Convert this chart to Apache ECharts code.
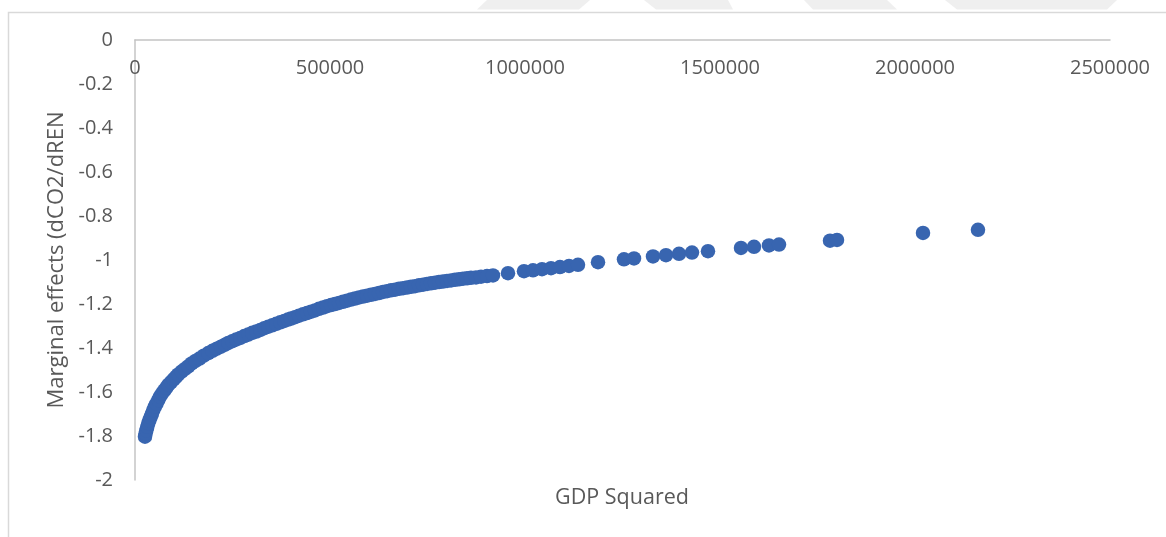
<!DOCTYPE html>
<html>
<head>
<meta charset="utf-8">
<script src="https://cdn.jsdelivr.net/npm/echarts@6/dist/echarts.min.js"></script>
<style>
  html, body { margin: 0; padding: 0; background: #ffffff; }
  #chart { width: 1166px; height: 537px; }
</style>
</head>
<body>
<div id="chart"></div>
<script>
// ---- Data ----
const xTitle = 'GDP Squared';
const yTitle = 'Marginal effects (dCO2/dREN';

const gdpSquared = [
  25600, 27200, 29200, 31500, 34100, 36900, 40000, 43300, 46900, 50800,
  54900, 59500, 64100, 69200, 74600, 80000, 85400, 92300, 99500, 105100,
  111000, 119500, 128200, 136700, 145400, 155100, 165400, 176400, 187900, 198700,
  209700, 220500, 230800, 239200, 249500, 259700, 270000, 280300, 290500, 300800,
  311000, 321300, 331500, 341800, 352100, 362300, 372600, 382800, 392300, 400000,
  410300, 420500, 430800, 441000, 451300, 461500, 471800, 482100, 492300, 502600,
  512800, 523100, 533300, 543600, 553800, 564100, 574400, 584600, 594900, 605100,
  615400, 625600, 635900, 646200, 656400, 666700, 676900, 687200, 697400, 707700,
  717900, 728200, 738500, 748700, 759000, 769200, 779500, 789700, 800000, 810300,
  820500, 830800, 841000, 851300, 861500, 874400, 887200, 902600,
  917900, 956400, 997400, 1020500, 1043600, 1066700, 1089700, 1112800, 1135900, 1187200,
  1253800, 1279500, 1328200, 1361500, 1394900, 1428200, 1469200, 1553800, 1587200, 1625600,
  1651300, 1782100, 1800000, 2020500, 2161500
];

const marginalEffect = [
  -1.803, -1.789, -1.774, -1.758, -1.742, -1.728, -1.714, -1.700, -1.682, -1.667,
  -1.653, -1.637, -1.621, -1.607, -1.594, -1.581, -1.568, -1.555, -1.542, -1.531,
  -1.520, -1.507, -1.495, -1.483, -1.470, -1.459, -1.448, -1.435, -1.423, -1.413,
  -1.403, -1.394, -1.385, -1.377, -1.369, -1.361, -1.354, -1.346, -1.339, -1.331,
  -1.325, -1.318, -1.310, -1.303, -1.297, -1.290, -1.283, -1.277, -1.271, -1.266,
  -1.260, -1.253, -1.247, -1.241, -1.235, -1.229, -1.222, -1.216, -1.210, -1.205,
  -1.200, -1.195, -1.190, -1.185, -1.180, -1.175, -1.170, -1.166, -1.162, -1.158,
  -1.154, -1.150, -1.145, -1.142, -1.138, -1.135, -1.131, -1.128, -1.125, -1.122,
  -1.119, -1.115, -1.112, -1.109, -1.106, -1.103, -1.100, -1.098, -1.095, -1.093,
  -1.090, -1.088, -1.085, -1.083, -1.081, -1.079, -1.076, -1.073,
  -1.070, -1.060, -1.051, -1.047, -1.042, -1.037, -1.032, -1.027, -1.022, -1.010,
  -0.997, -0.993, -0.984, -0.978, -0.972, -0.966, -0.960, -0.945, -0.940, -0.934,
  -0.930, -0.912, -0.909, -0.877, -0.863
];

const xTicks = { min: 0, max: 2500000, interval: 500000 };
const yTicks = { min: -2, max: 0, interval: 0.2 };

// ---- Chart ----
const points = gdpSquared.map((x, i) => [x, marginalEffect[i]]);
const FONT = '"Open Sans", Lato, sans-serif';
const TEXT = '#595959';
const AXIS = '#c4c4c4';

const chart = echarts.init(document.getElementById('chart'), null, { renderer: 'canvas' });
chart.setOption({
  animation: false,
  backgroundColor: '#ffffff',
  textStyle: { fontFamily: FONT },
  title: {
    text: xTitle,
    left: 622,
    top: 487,
    textAlign: 'center',
    padding: 0,
    textStyle: { color: TEXT, fontSize: 21.5, fontWeight: 'normal', fontFamily: FONT }
  },
  grid: { left: 135, right: 56, top: 40, bottom: 57, containLabel: false, outerBoundsMode: 'none' },
  graphic: [
    { type: 'polygon', silent: true, z: -10, shape: { points: [[477,9.5],[579,9.5],[590,0],[487,0]] }, style: { fill: '#efefef' } },
    { type: 'polygon', silent: true, z: -10, shape: { points: [[656,9.5],[733,9.5],[728,0],[644,0]] }, style: { fill: '#efefef' } },
    { type: 'polygon', silent: true, z: -10, shape: { points: [[813,9.5],[897,9.5],[887,0],[804,0]] }, style: { fill: '#efefef' } },
    { type: 'polygon', silent: true, z: -10, shape: { points: [[957,9.5],[1107,9.5],[1117,0],[945,0]] }, style: { fill: '#efefef' } },
    { type: 'rect', silent: true, z: -5, shape: { x: 8.5, y: 12.5, width: 1200, height: 600 }, style: { fill: 'none', stroke: '#d9d9d9', lineWidth: 1.5 } }
  ],
  xAxis: {
    type: 'value',
    position: 'top',
    min: xTicks.min, max: xTicks.max, interval: xTicks.interval,
    axisLine: { show: true, onZero: false, lineStyle: { color: AXIS, width: 1.5 } },
    axisTick: { show: false },
    splitLine: { show: false },
    axisLabel: { inside: true, color: TEXT, fontSize: 20, fontFamily: FONT, margin: 18, formatter: v => String(v) }
  },
  yAxis: {
    type: 'value',
    min: yTicks.min, max: yTicks.max, interval: yTicks.interval,
    name: yTitle,
    nameLocation: 'middle',
    nameGap: 58,
    nameRotate: 90,
    nameTextStyle: { color: TEXT, fontSize: 22, fontFamily: FONT },
    axisLine: { show: true, onZero: false, lineStyle: { color: AXIS, width: 1.5 } },
    axisTick: { show: false },
    splitLine: { show: false },
    axisLabel: { color: TEXT, fontSize: 20, fontFamily: FONT, margin: 22 }
  },
  series: [{
    type: 'scatter',
    data: points,
    symbol: 'circle',
    symbolSize: 14.5,
    itemStyle: { color: '#3865b0', opacity: 1 },
    emphasis: { disabled: true }
  }]
});
</script>
</body>
</html>
